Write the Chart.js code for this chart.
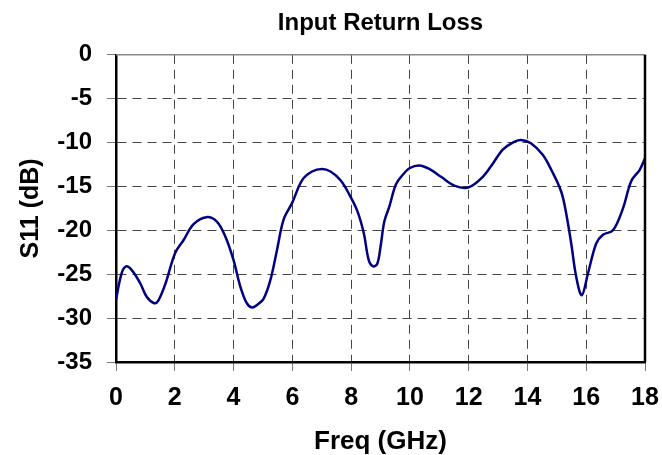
<!DOCTYPE html>
<html lang="en">
<head>
  <meta charset="UTF-8">
  <title>Input Return Loss</title>
  <script src="https://cdn.jsdelivr.net/npm/chart.js"></script>
  <style>
    body { margin: 0; background: #fff; }
    .container { width: 662px; height: 455px; }
  </style>
</head>
<body>
  <div class="container">
    <canvas id="s11-chart"></canvas>
  </div>

  <script>
    // values
    const freqGHz = [0, 0.19, 0.34, 0.53, 0.82, 1.05, 1.3, 1.44, 1.67, 2.01, 2.3, 2.64, 3.07, 3.43, 3.72,
      4.0, 4.23, 4.45, 4.63, 4.8, 5.02, 5.25, 5.48, 5.7, 5.99, 6.33, 6.67, 7.01, 7.3, 7.64, 7.92,
      8.2, 8.43, 8.6, 8.75, 8.89, 9.0, 9.13, 9.3, 9.52, 9.75, 10.0, 10.32, 10.66, 11.06, 11.51,
      12.0, 12.48, 12.82, 13.16, 13.5, 13.78, 14.13, 14.52, 14.81, 15.15, 15.32, 15.49, 15.66,
      15.85, 16.06, 16.34, 16.57, 16.91, 17.25, 17.53, 17.82, 18.0];
    const s11dB = [-27.9, -24.9, -24.1, -24.5, -26.0, -27.6, -28.3, -28.0, -26.2, -22.6, -21.1, -19.3, -18.5, -19.0, -20.7,
      -23.4, -26.4, -28.3, -28.8, -28.5, -27.8, -25.7, -22.2, -18.8, -16.9, -14.3, -13.3, -13.0, -13.3, -14.3, -15.8,
      -17.7, -20.3, -23.4, -24.1, -23.8, -21.9, -19.0, -17.3, -14.8, -13.7, -12.9, -12.6, -13.0, -13.9, -14.9,
      -15.1, -13.9, -12.4, -10.8, -10.0, -9.7, -10.1, -11.4, -13.1, -15.6, -18.1, -21.5, -25.3,
      -27.4, -24.9, -21.5, -20.5, -20.0, -17.5, -14.4, -13.1, -11.8];
    const xTicks = [0, 2, 4, 6, 8, 10, 12, 14, 16, 18];
    const yTicks = [0, -5, -10, -15, -20, -25, -30, -35];

    const FONT = '"Liberation Sans", Arial, sans-serif';
    Chart.defaults.color = '#000';

    // top and right frame lines
    const frame = {
      id: 'frame',
      afterDatasetsDraw(chart) {
        const { ctx, chartArea: a } = chart;
        ctx.save();
        ctx.strokeStyle = '#888';
        ctx.lineWidth = 1.5;
        ctx.beginPath();
        ctx.moveTo(a.left, a.top);
        ctx.lineTo(a.right, a.top);
        ctx.stroke();
        ctx.strokeStyle = '#000';
        ctx.lineWidth = 2.5;
        ctx.beginPath();
        ctx.moveTo(a.right, a.top);
        ctx.lineTo(a.right, a.bottom);
        ctx.stroke();
        ctx.restore();
      }
    };

    const ctx = document.getElementById('s11-chart').getContext('2d');
    new Chart(ctx, {
      type: 'line',
      data: {
        datasets: [{
          data: freqGHz.map((f, i) => ({ x: f, y: s11dB[i] })),
          borderColor: '#000080',
          borderWidth: 2.5,
          pointRadius: 0,
          tension: 0.35,
          fill: false
        }]
      },
      options: {
        responsive: true,
        maintainAspectRatio: false,
        animation: false,
        layout: { padding: { left: 0, right: 17, top: 0, bottom: 0 } },
        plugins: {
          legend: { display: false },
          tooltip: { enabled: false },
          title: {
            display: true,
            text: 'Input Return Loss',
            fullSize: false,
            font: { family: FONT, size: 24, weight: 'bold' },
            padding: { top: 9, bottom: 17 }
          }
        },
        scales: {
          x: {
            type: 'linear',
            min: 0,
            max: 18,
            afterBuildTicks: s => { s.ticks = xTicks.map(v => ({ value: v })); },
            afterFit: s => { s.height = 93; s.paddingLeft = 0; s.paddingRight = 0; },
            ticks: { font: { family: FONT, size: 25, weight: 'bold' }, padding: 12, maxRotation: 0 },
            grid: { color: '#444', tickColor: '#777', tickLength: 9 },
            border: { color: '#000', width: 2.5, dash: [9, 6] },
            title: {
              display: true,
              text: 'Freq (GHz)',
              font: { family: FONT, size: 26, weight: 'bold', lineHeight: 1 },
              padding: { top: 0, bottom: 0 }
            }
          },
          y: {
            min: -35,
            max: 0,
            afterBuildTicks: s => { s.ticks = yTicks.map(v => ({ value: v })); },
            afterFit: s => { s.width = 116; },
            ticks: { font: { family: FONT, size: 24, weight: 'bold' }, padding: 15 },
            grid: { color: '#444', tickColor: '#777', tickLength: 9 },
            border: { color: '#000', width: 2.5, dash: [9, 6] },
            title: {
              display: true,
              text: 'S11 (dB)',
              font: { family: FONT, size: 25, weight: 'bold', lineHeight: 1.2 },
              padding: { top: 16, bottom: 0 }
            }
          }
        }
      },
      plugins: [frame]
    });
  </script>
</body>
</html>
